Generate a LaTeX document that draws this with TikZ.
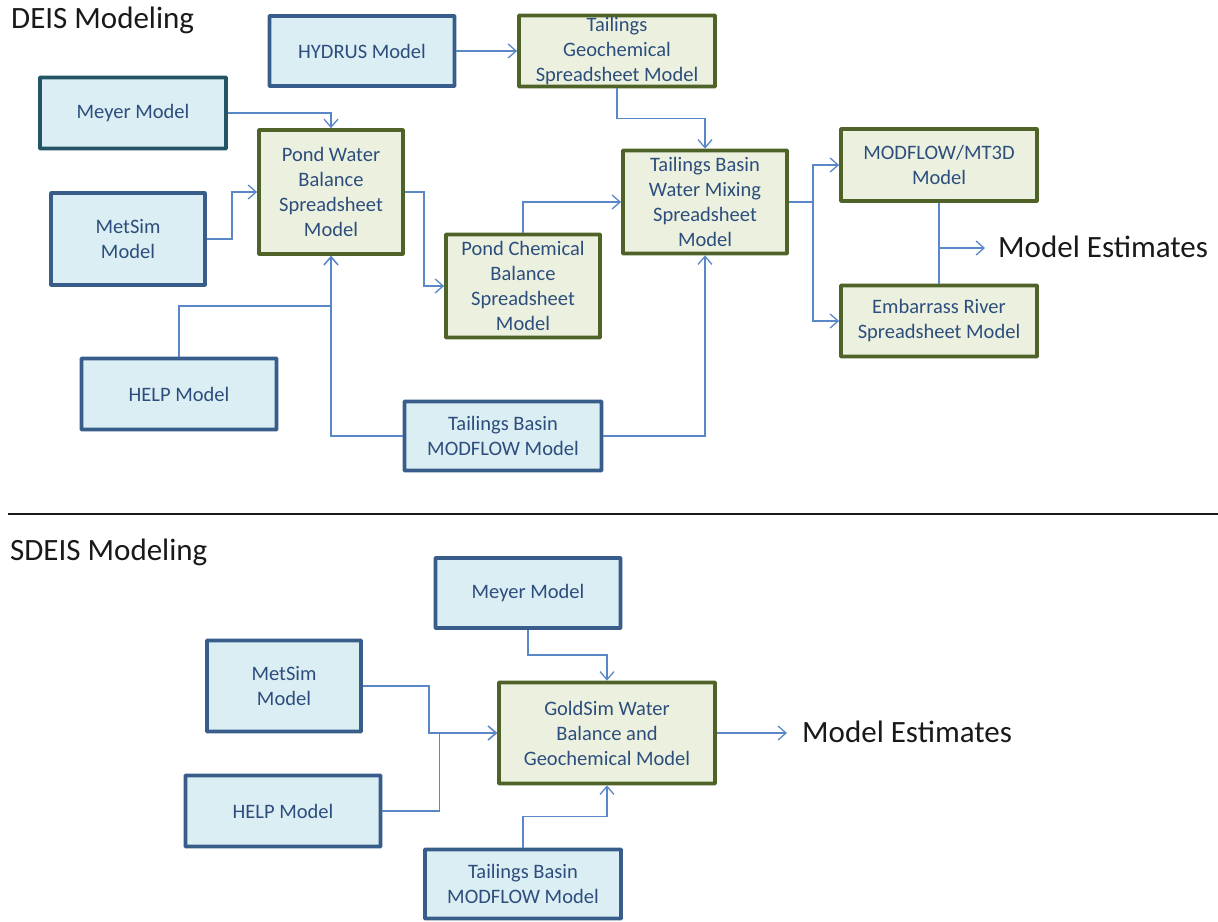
\documentclass[tikz,border=0pt]{standalone}
\usepackage{fontspec}
\setmainfont{Carlito}
\usetikzlibrary{arrows.meta}
\definecolor{bluebd}{RGB}{56,93,138}
\definecolor{tealbd}{RGB}{35,85,100}
\definecolor{bluefill}{RGB}{219,238,244}
\definecolor{greenbd}{RGB}{79,98,40}
\definecolor{greenfill}{RGB}{235,241,222}
\definecolor{txtc}{RGB}{45,78,125}
\definecolor{linec}{RGB}{90,135,200}
\definecolor{titlec}{RGB}{25,25,25}
\newcommand{\boxfont}{\fontsize{20.5}{25}\selectfont}
\newcommand{\bigfont}{\fontsize{31}{37}\selectfont}
\tikzset{
  bluebox/.style={draw=bluebd, fill=bluefill, line width=3.8pt, text=txtc, align=center, font=\boxfont, inner sep=0pt, rounded corners=0.5pt},
  greenbox/.style={draw=greenbd, fill=greenfill, line width=3.8pt, text=txtc, align=center, font=\boxfont, inner sep=0pt, rounded corners=0.5pt},
  conn/.style={draw=linec, line width=1.3pt},
  arr/.style={conn, -{Straight Barb[length=8pt,width=14pt,line width=1.3pt]}},
  bigtext/.style={text=titlec, font=\bigfont, inner sep=0pt},
}
\begin{document}
\begin{tikzpicture}[x=1pt,y=-1pt]
\useasboundingbox[fill=white] (0,0) rectangle (1218,921);

% titles
\node[bigtext, anchor=base west] (t1) at (11,28) {DEIS Modeling};
\node[bigtext, anchor=base west] (t2) at (10,560) {SDEIS Modeling};
\coordinate (dl) at (8,514);
\coordinate (dr) at (1218,514);
\draw[titlec, line width=1.2pt] (dl) -- (dr);

% DEIS boxes
\node[bluebox, minimum width=185pt, minimum height=70pt] (hyd) at (362,51) {HYDRUS Model};
\node[greenbox, minimum width=196pt, minimum height=71pt] (tg) at (617,51) {Tailings\\Geochemical\\Spreadsheet Model};
\node[bluebox, draw=tealbd, minimum width=186pt, minimum height=71pt] (mey) at (133,113) {Meyer Model};
\node[greenbox, minimum width=144pt, minimum height=124pt] (pwb) at (331,192) {Pond Water\\Balance\\Spreadsheet\\Model};
\node[bluebox, minimum width=154pt, minimum height=92pt] (met) at (128,239) {MetSim\\Model};
\node[greenbox, minimum width=154pt, minimum height=103pt] (pcb) at (523,286) {Pond Chemical\\Balance\\Spreadsheet\\Model};
\node[greenbox, minimum width=164pt, minimum height=103pt] (mix) at (705,202) {Tailings Basin\\Water Mixing\\Spreadsheet\\Model};
\node[greenbox, minimum width=196pt, minimum height=72pt] (mt3d) at (939,165) {MODFLOW/MT3D\\Model};
\node[greenbox, minimum width=196pt, minimum height=71pt] (emb) at (939,321) {Embarrass River\\Spreadsheet Model};
\node[bluebox, minimum width=195pt, minimum height=71pt] (help) at (179,394) {HELP Model};
\node[bluebox, minimum width=197pt, minimum height=69pt] (tbm) at (503,436) {Tailings Basin\\MODFLOW Model};
\node[bigtext, anchor=base west] (est1) at (998,257) {Model Estimates};

% DEIS connectors
\draw[arr] (hyd.east) -- (hyd.east -| tg.west);
\draw[arr] (mey.east) -| (pwb.north);
\draw[arr] (met.east) -- ++(25,0) |- (pwb.west);
\coordinate (j1) at (331,306);
\draw[arr] (help.north) |- (j1) -- (pwb.south);
\draw[arr] (tbm.west) -| (pwb.south);
\draw[arr] (tbm.east) -| (mix.south);
\draw[arr] (pwb.east) -- ++(19,0) |- (pcb.west);
\draw[arr] (pcb.north) |- (mix.west);
\draw[arr] (tg.south) -- ++(0,30) -| (mix.north);
\coordinate (sp) at (813,202);
\draw[conn] (mix.east) -- (sp);
\draw[arr] (sp) |- (mt3d.west);
\draw[arr] (sp) |- (emb.west);
\draw[conn] (mt3d.south) -- (emb.north);
\coordinate (me1) at (939,248);
\draw[arr, shorten >=13pt] (me1) -- (me1 -| est1.west);

% SDEIS boxes
\node[bluebox, minimum width=185pt, minimum height=70pt] (smey) at (528,593) {Meyer Model};
\node[bluebox, minimum width=154pt, minimum height=91pt] (smet) at (284,686) {MetSim\\Model};
\node[bluebox, minimum width=195pt, minimum height=71pt] (shelp) at (283,811) {HELP Model};
\node[greenbox, minimum width=216pt, minimum height=101pt] (gs) at (607,733) {GoldSim Water\\Balance and\\Geochemical Model};
\node[bluebox, minimum width=196pt, minimum height=69pt] (stbm) at (523,884) {Tailings Basin\\MODFLOW Model};
\node[bigtext, anchor=base west] (est2) at (802,742) {Model Estimates};

% SDEIS connectors
\draw[arr] (smey.south) -- ++(0,25) -| (gs.north);
\draw[arr] (smet.east) -- ++(66,0) |- (gs.west);
\draw[arr] (shelp.east) -- ++(57,0) |- (gs.west);
\draw[arr] (stbm.north) -- ++(0,-31) -| (gs.south);
\draw[arr, shorten >=15pt] (gs.east) -- (gs.east -| est2.west);
\end{tikzpicture}
\end{document}
